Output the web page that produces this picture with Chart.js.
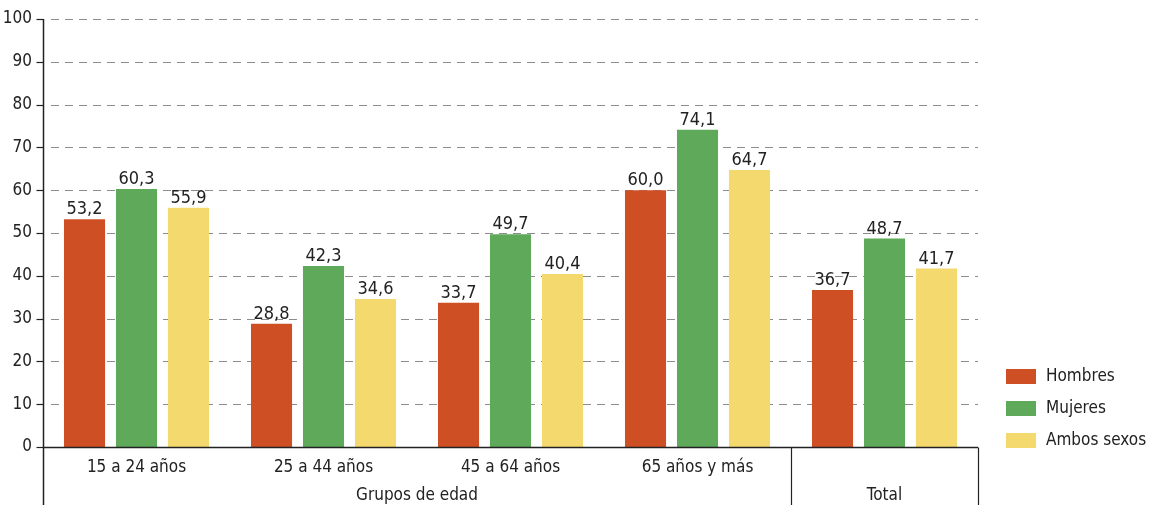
<!DOCTYPE html>
<html>
<head>
<meta charset="utf-8">
<script src="https://cdn.jsdelivr.net/npm/chart.js@4"></script>
<style>
html,body{margin:0;padding:0;background:#fff;}
canvas{display:block;}
</style>
</head>
<body>
<canvas id="c" width="1150" height="505"></canvas>
<script>
const categories = ["15 a 24 años", "25 a 44 años", "45 a 64 años", "65 años y más", "Total"];
const tickLabels = ["15 a 24 años", "25 a 44 años", "45 a 64 años", "65 años y más", ""];
const groupLabels = ["Grupos de edad", "Total"];
const groupSizes = [4, 1];
const seriesNames = ["Hombres", "Mujeres", "Ambos sexos"];
const hombres = [53.2, 28.8, 33.7, 60.0, 36.7];
const mujeres = [60.3, 42.3, 49.7, 74.1, 48.7];
const ambos = [55.9, 34.6, 40.4, 64.7, 41.7];
const yTicks = [0, 10, 20, 30, 40, 50, 60, 70, 80, 90, 100];
const colors = ["#CF4F24", "#5EAA5A", "#F4DA6E"];

const FONT = "'Liberation Sans Narrow', 'DejaVu Sans Condensed', 'Roboto', sans-serif";
const fmt = v => v.toFixed(1).replace('.', ',');

const decor = {
  id: 'decor',
  beforeDatasetsDraw(chart) {
    const ctx = chart.ctx, ca = chart.chartArea, y = chart.scales.y;
    ctx.save();
    ctx.strokeStyle = '#8c8c8c';
    ctx.lineWidth = 1;
    ctx.setLineDash([8, 6]);
    yTicks.forEach(t => {
      if (t === 0) return;
      const py = Math.round(y.getPixelForValue(t)) + 0.5;
      ctx.beginPath(); ctx.moveTo(ca.left + 8, py); ctx.lineTo(ca.right, py); ctx.stroke();
    });
    ctx.restore();
  },
  afterDatasetsDraw(chart) {
    const ctx = chart.ctx, ca = chart.chartArea, x = chart.scales.x, y = chart.scales.y;
    ctx.save();
    ctx.strokeStyle = '#222';
    ctx.lineWidth = 1.5;
    const lx = Math.round(ca.left) + 0.5;
    ctx.beginPath(); ctx.moveTo(lx, ca.top); ctx.lineTo(lx, chart.height); ctx.stroke();
    ctx.lineWidth = 1.2;
    yTicks.forEach(t => {
      const py = Math.round(y.getPixelForValue(t)) + 0.5;
      ctx.beginPath(); ctx.moveTo(lx - 7, py); ctx.lineTo(lx, py); ctx.stroke();
    });
    const by = Math.round(y.getPixelForValue(0)) + 0.5;
    ctx.lineWidth = 1.5;
    ctx.beginPath(); ctx.moveTo(lx, by); ctx.lineTo(ca.right, by); ctx.stroke();
    let start = 0;
    ctx.font = "17px " + FONT;
    ctx.fillStyle = '#222';
    ctx.textAlign = 'center';
    ctx.textBaseline = 'middle';
    let leftEdge = ca.left;
    groupSizes.forEach((n, gi) => {
      const end = start + n - 1;
      let rightEdge;
      if (end + 1 < categories.length) {
        rightEdge = (x.getPixelForTick(end) + x.getPixelForTick(end + 1)) / 2;
      } else {
        rightEdge = ca.right;
      }
      const rx = Math.round(rightEdge) + 0.5;
      ctx.lineWidth = 1.2;
      ctx.beginPath(); ctx.moveTo(rx, by); ctx.lineTo(rx, chart.height); ctx.stroke();
      ctx.fillText(groupLabels[gi], (leftEdge + rightEdge) / 2, 496);
      leftEdge = rightEdge;
      start = end + 1;
    });
    ctx.font = "18px " + FONT;
    ctx.textBaseline = 'alphabetic';
    chart.data.datasets.forEach((ds, di) => {
      const meta = chart.getDatasetMeta(di);
      meta.data.forEach((bar, i) => {
        ctx.fillText(fmt(ds.data[i]), bar.x, bar.y - 5);
      });
    });
    ctx.textAlign = 'left';
    ctx.textBaseline = 'middle';
    ctx.font = "17px " + FONT;
    chart.data.datasets.forEach((ds, di) => {
      const cy = 377 + di * 32;
      ctx.fillStyle = ds.backgroundColor;
      ctx.fillRect(1006, cy - 8, 30, 15);
      ctx.fillStyle = '#222';
      ctx.fillText(ds.label, 1046, cy);
    });
    ctx.restore();
  }
};

new Chart(document.getElementById('c'), {
  type: 'bar',
  data: {
    labels: categories,
    datasets: [
      { label: seriesNames[0], data: hombres, backgroundColor: colors[0] },
      { label: seriesNames[1], data: mujeres, backgroundColor: colors[1] },
      { label: seriesNames[2], data: ambos, backgroundColor: colors[2] }
    ]
  },
  options: {
    responsive: false,
    animation: false,
    categoryPercentage: 0.834,
    barPercentage: 0.79,
    layout: { padding: { top: 19, right: 172, left: 0, bottom: 0 } },
    plugins: { legend: { display: false }, tooltip: { enabled: false } },
    scales: {
      x: {
        grid: { display: false },
        border: { display: false },
        ticks: {
          color: '#222', font: { size: 17, family: FONT }, padding: 2, maxRotation: 0,
          callback: (v, i) => tickLabels[i]
        },
        afterFit(s) { s.height = 58; }
      },
      y: {
        min: 0, max: 100,
        grid: { display: false },
        border: { display: false },
        ticks: { stepSize: 10, color: '#222', font: { size: 17, family: FONT }, padding: 3 },
        afterFit(s) { s.width = 43; }
      }
    }
  },
  plugins: [decor]
});
</script>
</body>
</html>
